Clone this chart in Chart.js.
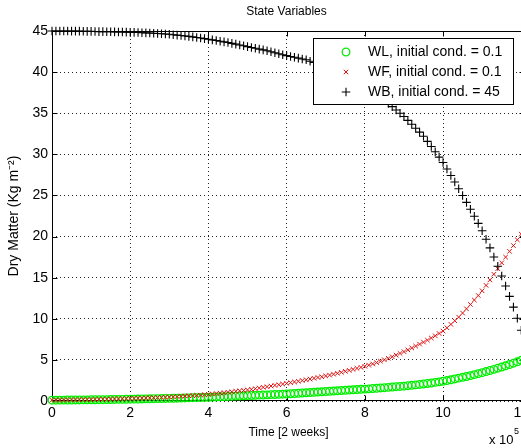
<!DOCTYPE html>
<html><head><meta charset="utf-8">
<script src="https://cdn.jsdelivr.net/npm/chart.js@4/dist/chart.umd.min.js"></script>
<style>
html,body{margin:0;padding:0;background:#fff;overflow:hidden;}
#wrap{position:relative;width:521px;height:448px;overflow:hidden;background:#fff;}
canvas{display:block;}
</style></head><body>
<div id="wrap"><canvas id="c" width="545" height="448" style="width:545px;height:448px"></canvas></div>
<script>
// ---- data (time in units of 10^5) ----
const time = [0,0.1,0.2,0.3,0.4,0.5,0.6,0.7,0.8,0.9,
1,1.1,1.2,1.3,1.4,1.5,1.6,1.7,1.8,1.9,
2,2.1,2.2,2.3,2.4,2.5,2.6,2.7,2.8,2.9,
3,3.1,3.2,3.3,3.4,3.5,3.6,3.7,3.8,3.9,
4,4.1,4.2,4.3,4.4,4.5,4.6,4.7,4.8,4.9,
5,5.1,5.2,5.3,5.4,5.5,5.6,5.7,5.8,5.9,
6,6.1,6.2,6.3,6.4,6.5,6.6,6.7,6.8,6.9,
7,7.1,7.2,7.3,7.4,7.5,7.6,7.7,7.8,7.9,
8,8.1,8.2,8.3,8.4,8.5,8.6,8.7,8.8,8.9,
9,9.1,9.2,9.3,9.4,9.5,9.6,9.7,9.8,9.9,
10,10.1,10.2,10.3,10.4,10.5,10.6,10.7,10.8,10.9,
11,11.1,11.2,11.3,11.4,11.5,11.6,11.7,11.8,11.9,
12];
const WL = [0.10,0.10,0.11,0.11,0.12,0.12,0.13,0.13,0.14,0.14,
0.15,0.15,0.16,0.16,0.17,0.18,0.19,0.20,0.20,0.21,
0.22,0.23,0.24,0.25,0.26,0.27,0.28,0.29,0.30,0.31,
0.32,0.33,0.34,0.35,0.37,0.38,0.40,0.41,0.42,0.44,
0.45,0.47,0.49,0.51,0.53,0.55,0.57,0.59,0.61,0.63,
0.65,0.67,0.69,0.71,0.73,0.75,0.77,0.79,0.81,0.83,
0.85,0.88,0.91,0.94,0.97,1.00,1.03,1.06,1.09,1.12,
1.15,1.18,1.21,1.24,1.27,1.30,1.33,1.36,1.39,1.42,
1.45,1.48,1.52,1.55,1.59,1.62,1.66,1.70,1.74,1.77,
1.81,1.86,1.91,1.96,2.01,2.07,2.13,2.19,2.26,2.33,
2.40,2.49,2.58,2.68,2.78,2.88,2.98,3.09,3.21,3.33,
3.45,3.58,3.71,3.85,3.99,4.13,4.28,4.44,4.60,4.77,
4.95];
const WF = [0.10,0.11,0.11,0.12,0.13,0.14,0.14,0.15,0.16,0.17,
0.18,0.19,0.20,0.21,0.22,0.24,0.25,0.26,0.27,0.29,
0.30,0.31,0.33,0.34,0.36,0.38,0.40,0.42,0.44,0.46,
0.48,0.51,0.54,0.57,0.60,0.63,0.66,0.69,0.72,0.76,
0.80,0.85,0.90,0.95,1.00,1.06,1.12,1.18,1.24,1.29,
1.35,1.42,1.50,1.58,1.66,1.74,1.82,1.90,1.98,2.06,
2.15,2.23,2.32,2.40,2.49,2.58,2.67,2.76,2.86,2.95,
3.05,3.15,3.26,3.37,3.49,3.61,3.73,3.85,3.97,4.09,
4.22,4.36,4.51,4.67,4.84,5.01,5.19,5.38,5.58,5.79,
6.00,6.22,6.45,6.68,6.92,7.16,7.40,7.66,7.93,8.21,
8.50,8.90,9.32,9.76,10.20,10.70,11.21,11.74,12.28,12.83,
13.40,14.06,14.73,15.41,16.10,16.80,17.50,18.20,18.90,19.60,
20.30];
const WB = [45.00,45.00,45.00,45.00,45.00,44.99,44.99,44.98,44.97,44.96,
44.95,44.94,44.93,44.92,44.91,44.90,44.89,44.88,44.87,44.86,
44.85,44.83,44.81,44.79,44.77,44.75,44.72,44.69,44.66,44.63,
44.60,44.55,44.50,44.45,44.40,44.35,44.28,44.21,44.14,44.07,
44.00,43.92,43.84,43.76,43.68,43.60,43.50,43.40,43.30,43.20,
43.10,43.00,42.90,42.80,42.70,42.60,42.48,42.36,42.24,42.12,
42.00,41.90,41.80,41.70,41.60,41.50,41.33,41.16,40.98,40.80,
40.60,40.40,40.20,40.00,39.80,39.60,39.36,39.12,38.88,38.64,
38.40,38.05,37.70,37.35,36.98,36.60,36.20,35.80,35.40,35.00,
34.60,34.13,33.66,33.18,32.70,32.20,31.58,30.96,30.32,29.66,
29.00,28.22,27.43,26.63,25.82,25.00,24.16,23.32,22.47,21.60,
20.70,19.68,18.62,17.52,16.38,15.20,13.98,12.72,11.42,10.06,
8.60];
const seriesNames = ['WL, initial cond. = 0.1','WF, initial cond. = 0.1','WB, initial cond. = 45'];
const xTicks = [0,2,4,6,8,10,12];
const yTicks = [0,5,10,15,20,25,30,35,40,45];
const titleText = 'State Variables';
const xTitle = 'Time [2 weeks]';
const yTitle = 'Dry Matter (Kg m\u207B\u00B2)';
const xMultiplier = 'x 10';
const xExponent = '5';

const FONT = '"Liberation Sans", Arial, Helvetica, sans-serif';
Chart.defaults.font.family = FONT;
Chart.defaults.color = '#000';

const styles = [
  {pointStyle:'circle', radius:3.8, color:'#00ee00', width:1.3, order:3},
  {pointStyle:'crossRot', radius:3.2, color:'#e01010', width:1, order:2},
  {pointStyle:'cross', radius:4.3, color:'#000000', width:1.1, order:1}
];
const series = [WL, WF, WB];
const TICK = 5;

const framePlugin = {
  id: 'frame',
  beforeDatasetsDraw(chart) {
    const {ctx, chartArea: a, scales: {x, y}} = chart;
    ctx.save();
    ctx.strokeStyle = '#000'; ctx.lineWidth = 1; ctx.setLineDash([]);
    const L = Math.round(a.left) + 0.5, R = Math.round(a.right) - 0.5;
    const T = Math.round(a.top) + 0.5, B = Math.round(a.bottom) - 0.5;
    ctx.strokeRect(L, T, R - L, B - T);
    ctx.beginPath();
    x.ticks.forEach(t => {
      const p = Math.round(x.getPixelForValue(t.value)) + 0.5;
      ctx.moveTo(p, B); ctx.lineTo(p, B - TICK);
      ctx.moveTo(p, T); ctx.lineTo(p, T + TICK);
    });
    y.ticks.forEach(t => {
      const p = Math.round(y.getPixelForValue(t.value)) + 0.5;
      ctx.moveTo(L, p); ctx.lineTo(L + TICK, p);
      ctx.moveTo(R, p); ctx.lineTo(R - TICK, p);
    });
    ctx.stroke();
    ctx.restore();
  },
  afterDatasetsDraw(chart) {
    const {ctx, chartArea: a} = chart;
    ctx.save();
    const bw = 200, bh = 66;
    const bx = Math.round(a.right) - 12 - bw, by = Math.round(a.top) + 7;
    ctx.fillStyle = '#fff';
    ctx.fillRect(bx, by, bw, bh);
    ctx.strokeStyle = '#000'; ctx.lineWidth = 1;
    ctx.strokeRect(bx + 0.5, by + 0.5, bw, bh);
    ctx.font = '14px ' + FONT;
    ctx.textBaseline = 'middle'; ctx.textAlign = 'left';
    chart.data.datasets.forEach((ds, i) => {
      const cy = by + 14 + i * 20;
      const st = styles[i];
      ctx.strokeStyle = st.color; ctx.fillStyle = 'rgba(0,0,0,0)';
      ctx.lineWidth = st.width;
      Chart.helpers.drawPoint(ctx, {pointStyle: st.pointStyle, radius: st.radius, rotation: 0, borderWidth: st.width}, bx + 33, cy);
      ctx.fillStyle = '#000';
      ctx.fillText(ds.label, bx + 55, cy);
    });
    ctx.restore();
  },
  afterDraw(chart) {
    const {ctx, chartArea: a} = chart;
    ctx.save();
    ctx.fillStyle = '#000';
    ctx.textAlign = 'center'; ctx.textBaseline = 'middle';
    ctx.font = '12px ' + FONT;
    ctx.fillText(titleText, (a.left + a.right) / 2 - 2, 12);
    ctx.textAlign = 'left';
    ctx.font = '13px ' + FONT;
    ctx.fillText(xMultiplier, 489, 440);
    ctx.font = '9px ' + FONT;
    ctx.fillText(xExponent, 514, 432);
    ctx.restore();
  }
};

new Chart(document.getElementById('c'), {
  type: 'line',
  data: {
    datasets: series.map((vals, i) => ({
      label: seriesNames[i],
      data: time.map((t, k) => ({x: t, y: vals[k]})),
      showLine: false,
      pointStyle: styles[i].pointStyle,
      pointRadius: styles[i].radius,
      pointBorderColor: styles[i].color,
      pointBackgroundColor: 'rgba(0,0,0,0)',
      pointBorderWidth: styles[i].width,
      order: styles[i].order,
      clip: false
    }))
  },
  options: {
    responsive: false,
    animation: false,
    events: [],
    layout: {padding: {top: 31, right: 20, bottom: 0, left: 0}},
    plugins: {legend: {display: false}, tooltip: {enabled: false}, title: {display: false}},
    scales: {
      x: {
        type: 'linear', min: 0, max: 12.096,
        afterBuildTicks: s => { s.ticks = xTicks.map(v => ({value: v})); },
        ticks: {font: {size: 14}, color: '#000', padding: 4, maxRotation: 0, autoSkip: false},
        grid: {color: '#222', lineWidth: 1, drawTicks: false},
        border: {display: false, dash: [1, 3]},
        title: {display: true, text: xTitle, font: {size: 12}, color: '#000', padding: {top: 0, bottom: 8}},
        afterFit: s => { s.height = 47; }
      },
      y: {
        type: 'linear', min: 0, max: 45,
        afterBuildTicks: s => { s.ticks = yTicks.map(v => ({value: v})); },
        ticks: {font: {size: 14}, color: '#000', padding: 4, autoSkip: false},
        grid: {color: '#222', lineWidth: 1, drawTicks: false},
        border: {display: false, dash: [1, 3]},
        title: {display: true, text: yTitle, font: {size: 14}, color: '#000', padding: {top: 6, bottom: 0}},
        afterFit: s => { s.width = 52; }
      }
    }
  },
  plugins: [framePlugin]
});
</script>
</body></html>
